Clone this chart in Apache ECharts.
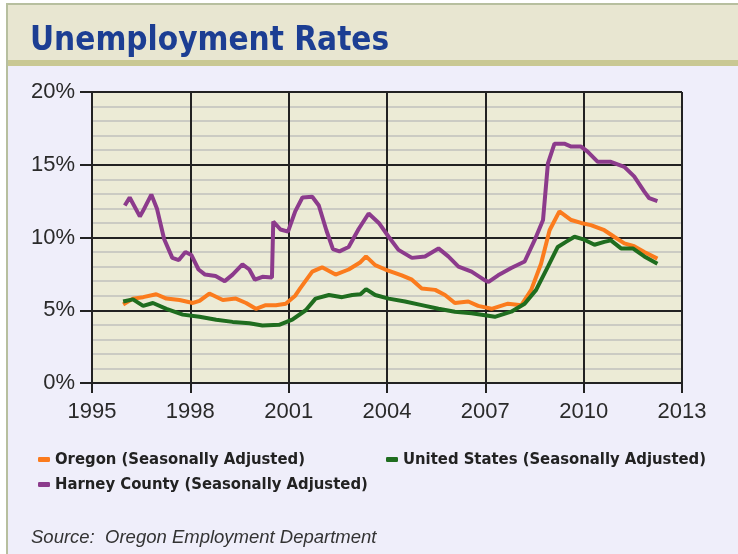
<!DOCTYPE html>
<html>
<head>
<meta charset="utf-8">
<script src="https://cdn.jsdelivr.net/npm/echarts@6/dist/echarts.min.js"></script>
<style>
html,body{margin:0;padding:0;background:#ffffff;}
#chart{width:738px;height:554px;}
</style>
</head>
<body>
<div id="chart"></div>
<script>
// ---- Data (decimal years, unemployment rate %) ----
const oregonYears = [1995.95,1996.25,1996.56,1996.96,1997.27,1997.67,1998.08,1998.28,1998.58,1998.99,1999.39,1999.7,2000.0,2000.3,2000.61,2000.91,2001.2,2001.35,2001.72,2002.02,2002.43,2002.83,2003.19,2003.36,2003.64,2003.95,2004.45,2004.76,2005.06,2005.47,2005.77,2006.07,2006.48,2006.78,2007.19,2007.69,2008.1,2008.4,2008.7,2008.96,2009.26,2009.62,2009.92,2010.22,2010.63,2010.93,2011.24,2011.54,2011.85,2012.25];
const oregonRates = [5.4,5.8,5.9,6.1,5.8,5.7,5.5,5.65,6.15,5.7,5.8,5.5,5.1,5.35,5.35,5.45,6.0,6.5,7.65,7.95,7.45,7.8,8.3,8.7,8.1,7.8,7.4,7.1,6.5,6.4,6.05,5.5,5.6,5.3,5.1,5.45,5.35,6.4,8.2,10.5,11.8,11.2,11.0,10.85,10.5,10.05,9.6,9.4,9.0,8.55];

const usYears = [1995.95,1996.25,1996.56,1996.86,1997.27,1997.77,1998.28,1998.79,1999.29,1999.8,2000.2,2000.71,2001.11,2001.52,2001.82,2002.23,2002.63,2002.94,2003.19,2003.36,2003.64,2004.05,2004.55,2005.06,2005.57,2006.07,2006.58,2006.99,2007.29,2007.79,2008.2,2008.55,2008.91,2009.21,2009.46,2009.72,2010.02,2010.33,2010.63,2010.83,2011.14,2011.5,2011.85,2012.25];
const usRates = [5.6,5.75,5.3,5.5,5.1,4.7,4.55,4.35,4.2,4.1,3.95,4.0,4.35,5.0,5.8,6.05,5.9,6.05,6.1,6.45,6.05,5.8,5.6,5.35,5.1,4.9,4.8,4.65,4.55,4.9,5.45,6.4,8.0,9.35,9.7,10.05,9.85,9.5,9.7,9.8,9.25,9.25,8.7,8.2];

const harneyYears = [1996.0,1996.15,1996.46,1996.55,1996.81,1996.98,1997.2,1997.45,1997.65,1997.85,1998.03,1998.25,1998.45,1998.77,1999.05,1999.29,1999.59,1999.8,1999.97,2000.2,2000.49,2000.53,2000.75,2000.98,2001.2,2001.42,2001.72,2001.92,2002.15,2002.35,2002.55,2002.83,2003.14,2003.44,2003.75,2004.05,2004.35,2004.76,2005.16,2005.57,2005.87,2006.18,2006.58,2006.99,2007.1,2007.39,2007.79,2008.2,2008.5,2008.76,2008.91,2009.11,2009.41,2009.62,2009.92,2010.12,2010.43,2010.83,2011.24,2011.54,2011.85,2012.0,2012.25];
const harneyRates = [12.2,12.75,11.45,11.8,12.95,12.0,9.9,8.6,8.45,9.0,8.8,7.8,7.45,7.35,7.0,7.45,8.15,7.8,7.1,7.3,7.25,11.1,10.55,10.4,11.8,12.75,12.8,12.2,10.5,9.2,9.05,9.35,10.6,11.65,11.0,10.05,9.15,8.6,8.7,9.25,8.7,8.0,7.65,7.05,6.95,7.4,7.9,8.35,9.8,11.2,15.1,16.45,16.45,16.25,16.25,15.9,15.2,15.2,14.85,14.2,13.15,12.7,12.5];

const seriesNames = ['Oregon (Seasonally Adjusted)','United States (Seasonally Adjusted)','Harney County (Seasonally Adjusted)'];
const xTickYears = [1995,1998,2001,2004,2007,2010,2013];

function pairs(xs, ys){ return xs.map((x,i)=>[x, ys[i]]); }

const chart = echarts.init(document.getElementById('chart'), null, {renderer:'canvas'});

const legendText = {fontFamily:'DejaVu Sans Condensed, DejaVu Sans', fontWeight:'bold', fontSize:16.5, color:'#222'};
function legendAt(name, left, top){
  return {show:true, data:[name], left:left, top:top, icon:'roundRect', itemWidth:12, itemHeight:5, itemGap:0,
    textStyle:legendText, selectedMode:false, padding:0};
}

const option = {
  backgroundColor:'#ffffff',
  animation:false,
  graphic:[
    {type:'rect', z:-10, shape:{x:7,y:4,width:740,height:560}, style:{fill:'#efeefa', stroke:'#b7bf9f', lineWidth:2}},
    {type:'rect', z:-9, shape:{x:8,y:5,width:740,height:56}, style:{fill:'#e8e6d1'}},
    {type:'rect', z:-9, shape:{x:8,y:60,width:740,height:6}, style:{fill:'#c9c893'}},
    {type:'rect', z:-8, shape:{x:92,y:92,width:590,height:291}, style:{fill:'#ecebd6'}},
    {type:'text', left:31, top:528, z:10, style:{text:'Source:  Oregon Employment Department', fontFamily:'Liberation Sans', fontStyle:'italic', fontSize:18.5, fill:'#333'}}
  ],
  title:{text:'Unemployment Rates', left:25, top:20, textStyle:{fontFamily:'DejaVu Sans Condensed, DejaVu Sans', fontWeight:'bold', fontSize:33, color:'#1c3e93'}},
  legend:[
    legendAt(seriesNames[0], 38, 451),
    legendAt(seriesNames[1], 386, 451),
    legendAt(seriesNames[2], 38, 476)
  ],
  grid:{left:92, right:56, top:92, bottom:171, containLabel:false},
  xAxis:{
    type:'value', min:1995, max:2013, interval:3,
    axisLine:{show:true, lineStyle:{color:'#222', width:2}},
    axisTick:{show:true, length:10, lineStyle:{color:'#222', width:2}},
    axisLabel:{margin:18, fontFamily:'Liberation Sans', fontSize:22, color:'#2a2a2a',
      formatter:function(v){ return xTickYears.indexOf(v) >= 0 ? String(v) : ''; }},
    splitLine:{show:true, lineStyle:{color:'#222', width:2}}
  },
  yAxis:{
    type:'value', min:0, max:20, interval:5,
    axisLine:{show:true, lineStyle:{color:'#222', width:2}},
    axisTick:{show:true, length:12, lineStyle:{color:'#222', width:2}},
    axisLabel:{margin:17, fontFamily:'Liberation Sans', fontSize:22, color:'#2a2a2a', formatter:'{value}%'},
    splitLine:{show:true, lineStyle:{color:'#222', width:2}},
    minorTick:{show:false, splitNumber:5},
    minorSplitLine:{show:true, lineStyle:{color:'#cbcbc3', width:2}}
  },
  series:[
    {name:seriesNames[0], type:'line', data:pairs(oregonYears, oregonRates), showSymbol:false, symbol:'none', color:'#fb7b1d', lineStyle:{width:4, color:'#fb7b1d'}, z:3},
    {name:seriesNames[1], type:'line', data:pairs(usYears, usRates), showSymbol:false, symbol:'none', color:'#1f6d1f', lineStyle:{width:4, color:'#1f6d1f'}, z:4},
    {name:seriesNames[2], type:'line', data:pairs(harneyYears, harneyRates), showSymbol:false, symbol:'none', color:'#8c3b8c', lineStyle:{width:4, color:'#8c3b8c'}, z:2}
  ]
};
chart.setOption(option);
</script>
</body>
</html>
